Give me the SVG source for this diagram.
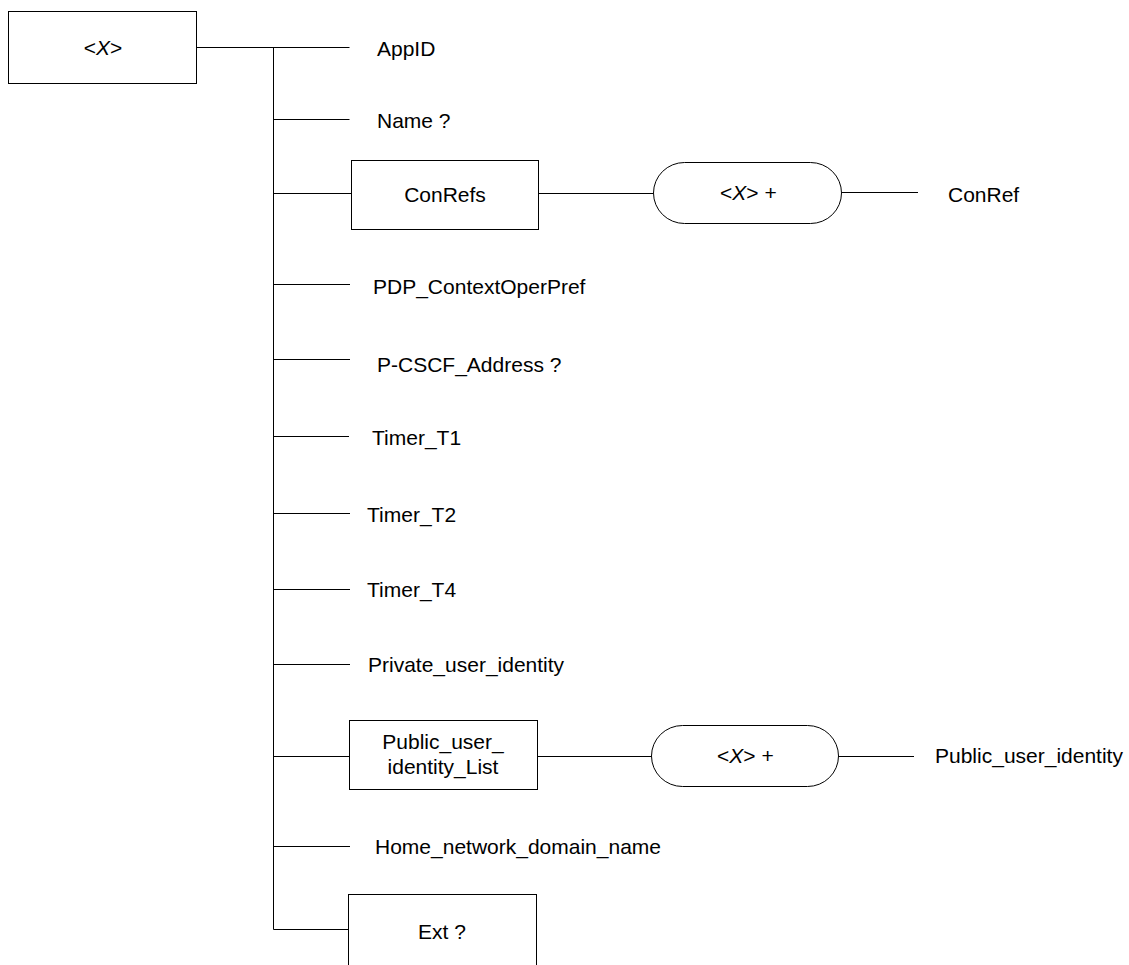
<svg xmlns="http://www.w3.org/2000/svg" width="1129" height="965" viewBox="0 0 1129 965">
<style>
.b{fill:#fff;stroke:#000;stroke-width:1}
.l{stroke:#000;stroke-width:1;fill:none}
text{font-family:"Liberation Sans",Arial,sans-serif;font-size:21px;fill:#000}
.c{text-anchor:middle}
</style>
<rect width="1129" height="965" fill="#fff"/>
<g id="connectors">
<path class="l" d="M196.5 47.5H349.5M273.5 47.5V929.5M273.5 119.5H349.5M273.5 193.5H351M539 193.5H653M842 192.5H918M273.5 284.5H350M273.5 359.5H350M273.5 436.5H349M273.5 513.5H350M273.5 589.5H350M273.5 664.5H350M273.5 756.5H349M538 756.5H651M838 756.5H914M273.5 846.5H350M273.5 929.5H348"/>
</g>
<g id="root"><rect class="b" x="8.5" y="11.5" width="188" height="72"/><text class="c" x="103" y="55">&lt;<tspan font-style="italic">X</tspan>&gt;</text></g>
<g id="appid"><text x="377" y="56">AppID</text></g>
<g id="name"><text x="377" y="128">Name ?</text></g>
<g id="conrefs"><rect class="b" x="351.5" y="160.5" width="187" height="69"/><text class="c" x="445" y="202">ConRefs</text></g>
<g id="conrefs-x"><rect class="b" x="653.5" y="162.5" width="188" height="61" rx="31" ry="30.5"/><text x="720" y="200">&lt;<tspan font-style="italic">X</tspan>&gt; +</text></g>
<g id="conref"><text x="948" y="202">ConRef</text></g>
<g id="pdp"><text x="373" y="294">PDP_ContextOperPref</text></g>
<g id="pcscf"><text x="377" y="372">P-CSCF_Address ?</text></g>
<g id="t1"><text x="372" y="445">Timer_T1</text></g>
<g id="t2"><text x="367" y="522">Timer_T2</text></g>
<g id="t4"><text x="367" y="597">Timer_T4</text></g>
<g id="private"><text x="368" y="672">Private_user_identity</text></g>
<g id="publist"><rect class="b" x="349.5" y="720.5" width="188" height="69"/><text class="c" x="443" y="749">Public_user_</text><text class="c" x="443" y="774">identity_List</text></g>
<g id="publist-x"><rect class="b" x="651.5" y="725.5" width="187" height="61" rx="31" ry="30.5"/><text x="717" y="763">&lt;<tspan font-style="italic">X</tspan>&gt; +</text></g>
<g id="pubid"><text x="935" y="763">Public_user_identity</text></g>
<g id="home"><text x="375" y="854">Home_network_domain_name</text></g>
<g id="ext"><rect class="b" x="348.5" y="894.5" width="188" height="80"/><text class="c" x="442" y="939">Ext ?</text></g>
</svg>
